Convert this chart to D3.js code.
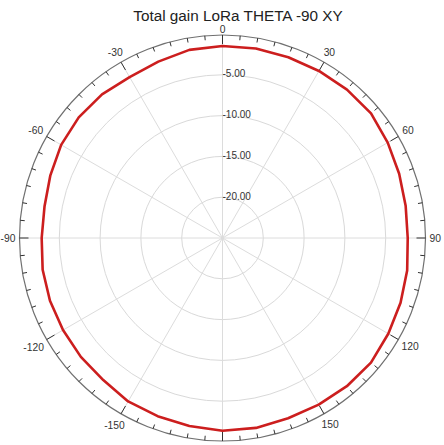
<!DOCTYPE html>
<html>
<head>
<meta charset="utf-8">
<script src="https://cdn.jsdelivr.net/npm/d3@7"></script>
<style>
  html, body { margin: 0; padding: 0; background: #fff; }
  svg { display: block; font-family: Arial, "Liberation Sans", sans-serif; }
</style>
</head>
<body>
<svg id="chart" width="444" height="445"></svg>
<script>
// ---- data ----
const title = "Total gain LoRa THETA -90 XY";
const angles = [0, 10, 20, 30, 40, 50, 60, 70, 80, 90, 100, 110, 120, 130, 140, 150, 160, 170, 180,
                -170, -160, -150, -140, -130, -120, -110, -100, -90, -80, -70, -60, -50, -40, -30, -20, -10];
const gains  = [-1.47, -1.41, -1.42, -1.36, -1.27, -1.24, -1.62, -1.96, -2.21, -2.30,
                -2.02, -1.78, -1.54, -1.25, -1.29, -1.42, -1.49, -1.37, -1.38,
                -1.61, -1.76, -1.87, -2.27, -2.34, -2.43, -2.50, -2.62, -2.84,
                -2.85, -2.55, -2.17, -2.00, -2.03, -2.23, -2.00, -1.59];
const radialTicks = [-5, -10, -15, -20];
const radialTickLabels = ["-5.00", "-10.00", "-15.00", "-20.00"];
const angleTicks = [0, 30, 60, 90, 120, 150, -150, -120, -90, -60, -30];
const angleTickLabels = ["0", "30", "60", "90", "120", "150", "-150", "-120", "-90", "-60", "-30"];

// ---- layout ----
const cx = 222.5, cy = 238, R = 203;
const r = d3.scaleLinear().domain([-25, 0]).range([0, 204]);
const rad = d => d * Math.PI / 180;

const svg = d3.select("#chart");
svg.append("text")
  .attr("x", 238).attr("y", 21)
  .attr("text-anchor", "middle")
  .attr("font-size", 15.3)
  .attr("fill", "#222")
  .text(title);

const g = svg.append("g").attr("transform", `translate(${cx},${cy})`);

// grid circles
g.selectAll("circle.grid").data(radialTicks).join("circle")
  .attr("class", "grid")
  .attr("r", d => r(d))
  .attr("fill", "none").attr("stroke", "#d9d9d9").attr("stroke-width", 1);

// spokes
g.selectAll("line.spoke").data(d3.range(0, 360, 30)).join("line")
  .attr("x1", 0).attr("y1", 0)
  .attr("x2", d => R * Math.sin(rad(d)))
  .attr("y2", d => -R * Math.cos(rad(d)))
  .attr("stroke", "#dcdcdc").attr("stroke-width", 1);

// radial labels
g.selectAll("text.rlab").data(radialTicks).join("text")
  .attr("x", 0)
  .attr("y", d => -r(d) + 2.5)
  .attr("font-size", 10)
  .attr("fill", "#333")
  .text((d, i) => radialTickLabels[i]);

// outer circle
g.append("circle").attr("r", R)
  .attr("fill", "none").attr("stroke", "#707070").attr("stroke-width", 1.2);

// ticks
g.selectAll("line.tick").data(d3.range(0, 360, 5)).join("line")
  .attr("x1", d => R * Math.sin(rad(d)))
  .attr("y1", d => -R * Math.cos(rad(d)))
  .attr("x2", d => (R - (d % 30 === 0 ? 9 : 4.5)) * Math.sin(rad(d)))
  .attr("y2", d => -(R - (d % 30 === 0 ? 9 : 4.5)) * Math.cos(rad(d)))
  .attr("stroke", "#333").attr("stroke-width", 1);

// angle labels
const labs = g.selectAll("text.alab").data(angleTicks).join("text")
  .attr("font-size", 10.3)
  .attr("fill", "#333")
  .attr("text-anchor", "middle")
  .attr("dominant-baseline", "central")
  .text((d, i) => angleTickLabels[i]);
labs.each(function(d) {
  const w = this.getComputedTextLength();
  const s = Math.abs(Math.sin(rad(d))), c = Math.abs(Math.cos(rad(d)));
  const rr = 207 + 0.5 * w * s + (d === 0 ? 1.5 : 4.5) * c;
  d3.select(this).attr("x", rr * Math.sin(rad(d))).attr("y", -rr * Math.cos(rad(d)));
});

// trace
const pts = angles.map((a, i) => [rad(a), r(gains[i])]);
const line = d3.lineRadial().angle(d => d[0]).radius(d => d[1]).curve(d3.curveLinearClosed);
g.append("path").datum(pts)
  .attr("d", line)
  .attr("fill", "none")
  .attr("stroke", "#cc1e1e")
  .attr("stroke-width", 2.6)
  .attr("stroke-linejoin", "round");
</script>
</body>
</html>
